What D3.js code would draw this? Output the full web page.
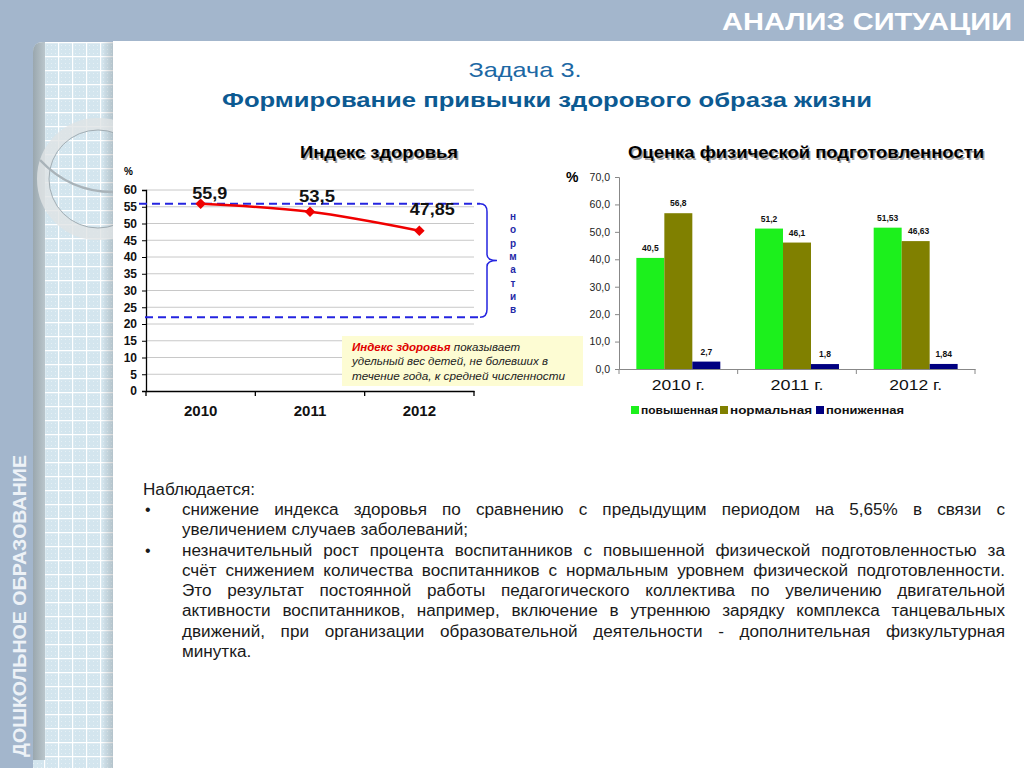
<!DOCTYPE html>
<html><head><meta charset="utf-8">
<script src="https://cdn.jsdelivr.net/npm/d3@7"></script>
<style>html,body{margin:0;padding:0;background:#fff;overflow:hidden}svg{display:block;font-family:Arial,"Liberation Sans",sans-serif}</style>
</head><body>
<svg id="c" width="1024" height="768"></svg>
<script>
// ---------- data ----------
const years = ["2010", "2011", "2012"];
const healthIndex = [55.9, 53.5, 47.85];
const healthLabels = ["55,9", "53,5", "47,85"];
const leftTicks = [0, 5, 10, 15, 20, 25, 30, 35, 40, 45, 50, 55, 60];
const normLow = 22;
const normHigh = 55.9;
const normLetters = ["н", "о", "р", "м", "а", "т", "и", "в"];

const fitCats = ["2010 г.", "2011 г.", "2012 г."];
const seriesNames = ["повышенная", "нормальная", "пониженная"];
const raised = [40.5, 51.2, 51.53];
const normal = [56.8, 46.1, 46.63];
const lowered = [2.7, 1.8, 1.84];
const rightTicks = [0, 10, 20, 30, 40, 50, 60, 70];
const seriesColors = ["#1cf01c", "#808000", "#000080"];

const bodyLines = [
  {t: "Наблюдается:", x: 143, j: false},
  {t: "снижение индекса здоровья по сравнению с предыдущим периодом на 5,65% в связи с", x: 182, j: true, b: true},
  {t: "увеличением случаев заболеваний;", x: 182, j: false},
  {t: "незначительный рост процента воспитанников с повышенной физической подготовленностью за", x: 182, j: true, b: true},
  {t: "счёт снижением количества воспитанников с нормальным уровнем физической подготовленности.", x: 182, j: true},
  {t: "Это результат постоянной работы педагогического коллектива по увеличению двигательной", x: 182, j: true},
  {t: "активности воспитанников, например, включение в утреннюю зарядку комплекса танцевальных", x: 182, j: true},
  {t: "движений,  при организации образовательной деятельности - дополнительная физкультурная", x: 182, j: true},
  {t: "минутка.", x: 182, j: false}
];

const svg = d3.select("#c");
const defs = svg.append("defs");

// ---------- background ----------
svg.append("rect").attr("width", 1024).attr("height", 768).attr("fill", "#a3b6cc");
const pat = defs.append("pattern").attr("id", "grid").attr("patternUnits", "userSpaceOnUse")
  .attr("x", 44).attr("y", 42).attr("width", 14).attr("height", 14);
pat.append("rect").attr("width", 14).attr("height", 14).attr("fill", "#d3e5ee");
for (let i = 0; i < 3; i++) for (let k = 0; k < 3; k++)
  pat.append("rect").attr("x", 3 + i * 4).attr("y", 3 + k * 4).attr("width", 1).attr("height", 1).attr("fill", "#e6f0f5");
pat.append("path").attr("d", "M0,0.5H14M0.5,0V14").attr("stroke", "#fff").attr("stroke-width", 1.4);

const sh = defs.append("linearGradient").attr("id", "shade");
sh.append("stop").attr("offset", "0").attr("stop-color", "#000").attr("stop-opacity", 0);
sh.append("stop").attr("offset", "1").attr("stop-color", "#000").attr("stop-opacity", 0.15);
const gs = defs.append("linearGradient").attr("id", "gstrip");
gs.append("stop").attr("offset", "0").attr("stop-color", "#9aa7ae");
gs.append("stop").attr("offset", "1").attr("stop-color", "#bac6cc");

svg.append("path").attr("d", "M33,52 Q33,42 43,42 H113 V768 H33 Z").attr("fill", "url(#grid)");
svg.append("path").attr("d", "M33,52 Q33,42 43,42 H45 V760 H33 Z").attr("fill", "url(#gstrip)");
svg.append("rect").attr("x", 102).attr("y", 42).attr("width", 11).attr("height", 726).attr("fill", "url(#shade)");
// ring decoration
svg.append("circle").attr("cx", 98).attr("cy", 179).attr("r", 55).attr("fill", "none")
  .attr("stroke", "#e0e3e5").attr("stroke-opacity", 0.8).attr("stroke-width", 12);
svg.append("circle").attr("cx", 98).attr("cy", 179).attr("r", 49).attr("fill", "none")
  .attr("stroke", "#a2adb3").attr("stroke-width", 1);
svg.append("path").attr("d", "M40,160 Q70,192 113,192").attr("fill", "none")
  .attr("stroke", "#a9b3b9").attr("stroke-width", 2.5);

// white main panel
svg.append("rect").attr("x", 113).attr("y", 41).attr("width", 911).attr("height", 727).attr("fill", "#fff");

// header text
svg.append("text").attr("x", 1012).attr("y", 30).attr("text-anchor", "end")
  .attr("font-weight", "bold").attr("font-size", 24)
  .attr("fill", "#fff").attr("textLength", 290).attr("lengthAdjust", "spacingAndGlyphs").text("АНАЛИЗ СИТУАЦИИ");
// sidebar text
svg.append("text").attr("transform", "translate(26,757) rotate(-90)")
  .attr("font-weight", "bold").attr("font-size", 18).attr("fill", "#edf2f7")
  .attr("textLength", 302).attr("lengthAdjust", "spacingAndGlyphs").text("ДОШКОЛЬНОЕ ОБРАЗОВАНИЕ");

// titles
svg.append("text").attr("x", 525).attr("y", 77).attr("text-anchor", "middle")
  .attr("font-size", 21).attr("fill", "#1c68a4")
  .attr("textLength", 113).attr("lengthAdjust", "spacingAndGlyphs").text("Задача 3.");
svg.append("text").attr("x", 547).attr("y", 107).attr("text-anchor", "middle")
  .attr("font-size", 21).attr("font-weight", "bold").attr("fill", "#0c5a92")
  .attr("textLength", 650).attr("lengthAdjust", "spacingAndGlyphs")
  .text("Формирование привычки здорового образа жизни");

function shadowTitle(x, y, txt, w) {
  [["#a0a0a0", 1.5, 2], ["#000", 0, 0]].forEach(([c, dx, dy]) => {
    svg.append("text").attr("x", x + dx).attr("y", y + dy).attr("text-anchor", "middle")
      .attr("font-size", 16.5).attr("font-weight", "bold").attr("fill", c)
      .attr("textLength", w).attr("lengthAdjust", "spacingAndGlyphs").text(txt);
  });
}
shadowTitle(379, 158, "Индекс здоровья", 158);
shadowTitle(806, 158, "Оценка физической подготовленности", 356);

// ---------- left chart ----------
const xL = d3.scaleBand().domain(years).range([146, 474]);
const yL = d3.scaleLinear().domain([0, 60]).range([391, 190]);
const L = svg.append("g");
L.selectAll("line.grid").data(leftTicks.filter(d => d > 0)).join("line")
  .attr("x1", 146).attr("x2", 474).attr("y1", d => yL(d)).attr("y2", d => yL(d))
  .attr("stroke", "#c8c8c8").attr("stroke-width", 1);
const axL = L.append("g").attr("transform", "translate(146,0)")
  .call(d3.axisLeft(yL).tickValues(leftTicks).tickSize(4).tickPadding(5));
axL.select(".domain").attr("stroke", "#000").attr("stroke-width", 1.3);
axL.selectAll("text").attr("font-size", 12).attr("font-weight", "bold").attr("fill", "#111").attr("font-family", "Arial");
const axLB = L.append("g").attr("transform", "translate(0,391)")
  .call(d3.axisBottom(xL).tickSize(0).tickPadding(14));
axLB.select(".domain").attr("stroke", "#000").attr("stroke-width", 1.3);
axLB.selectAll("text").attr("font-size", 15).attr("font-weight", "bold").attr("fill", "#111").attr("font-family", "Arial");
L.selectAll("line.xt").data(xL.domain().map(d => xL(d)).concat([474])).join("line")
  .attr("x1", d => d).attr("x2", d => d).attr("y1", 391).attr("y2", 396).attr("stroke", "#000").attr("stroke-width", 1.3);
L.append("text").attr("x", 124).attr("y", 175).attr("font-size", 10).attr("font-weight", "bold").text("%");

// norm dashed lines and brace
const yHi = yL(normHigh), yLo = yL(normLow);
L.append("line").attr("x1", 139).attr("x2", 480).attr("y1", yHi).attr("y2", yHi)
  .attr("stroke", "#2424e0").attr("stroke-width", 2).attr("stroke-dasharray", "8,5");
L.append("line").attr("x1", 145).attr("x2", 480).attr("y1", yLo).attr("y2", yLo)
  .attr("stroke", "#2424e0").attr("stroke-width", 2).attr("stroke-dasharray", "8,5");
const ym = (yHi + yLo) / 2;
L.append("path").attr("fill", "none").attr("stroke", "#2424e0").attr("stroke-width", 1.5)
  .attr("d", `M480,${yHi} Q487,${yHi} 487,${yHi + 8} V${ym - 6} Q487,${ym} 497,${ym} Q487,${ym} 487,${ym + 6} V${yLo - 8} Q487,${yLo} 480,${yLo}`);
L.selectAll("text.nl").data(normLetters).join("text")
  .attr("x", 513).attr("y", (d, i) => 220 + i * 13.3).attr("text-anchor", "middle")
  .attr("font-size", 10).attr("font-weight", "bold").attr("fill", "#1f2aa8").text(d => d);

// line
const pts = years.map((y, i) => [xL(y) + xL.bandwidth() / 2, yL(healthIndex[i])]);
L.append("path").attr("d", d3.line().curve(d3.curveMonotoneX)(pts)).attr("fill", "none")
  .attr("stroke", "#f00000").attr("stroke-width", 2.5);
L.selectAll("path.mk").data(pts).join("path")
  .attr("d", d3.symbol(d3.symbolSquare, 56)).attr("transform", d => `translate(${d[0]},${d[1]}) rotate(45)`).attr("fill", "#ee0000");
const lblOff = [[9, -5], [7, -10], [13, -16]];
const lblW = [35, 36, 45];
L.selectAll("text.dl").data(pts).join("text")
  .attr("x", (d, i) => d[0] + lblOff[i][0]).attr("y", (d, i) => d[1] + lblOff[i][1]).attr("text-anchor", "middle")
  .attr("font-size", 16).attr("font-weight", "bold").attr("fill", "#111")
  .attr("textLength", (d, i) => lblW[i]).attr("lengthAdjust", "spacingAndGlyphs").text((d, i) => healthLabels[i]);

// annotation box
L.append("rect").attr("x", 342).attr("y", 336).attr("width", 241).attr("height", 50).attr("fill", "#fdfcd3");
const ann = L.append("g").attr("font-size", 11.5).attr("font-style", "italic").attr("fill", "#222");
const a1 = ann.append("text").attr("x", 352).attr("y", 351).attr("textLength", 168).attr("lengthAdjust", "spacingAndGlyphs");
a1.append("tspan").attr("fill", "#e00000").attr("font-weight", "bold").text("Индекс здоровья");
a1.append("tspan").text(" показывает");
ann.append("text").attr("x", 352).attr("y", 365).attr("textLength", 196).attr("lengthAdjust", "spacingAndGlyphs").text("удельный вес детей, не болевших в");
ann.append("text").attr("x", 352).attr("y", 380).attr("textLength", 213).attr("lengthAdjust", "spacingAndGlyphs").text("течение года, к средней  численности");

// ---------- right chart ----------
const xR = d3.scaleBand().domain(fitCats).range([619, 975]);
const xS = d3.scaleBand().domain(seriesNames).range([0, xR.bandwidth()]).paddingInner(0).paddingOuter(0.62);
const yR = d3.scaleLinear().domain([0, 70]).range([369, 177]);
const R = svg.append("g");
const axR = R.append("g").attr("transform", "translate(619,0)")
  .call(d3.axisLeft(yR).tickValues(rightTicks).tickSize(4).tickPadding(5).tickFormat(d => d3.format(".1f")(d).replace(".", ",")));
axR.select(".domain").attr("stroke", "#888");
axR.selectAll("line").attr("stroke", "#888");
axR.selectAll("text").attr("font-size", 10.5).attr("fill", "#222").attr("font-family", "Arial");
const axRB = R.append("g").attr("transform", "translate(0,369)")
  .call(d3.axisBottom(xR).tickSize(0).tickPadding(10));
axRB.select(".domain").attr("stroke", "#888");
axRB.selectAll("text").attr("font-size", 15).attr("fill", "#111").attr("font-family", "Arial")
  .attr("textLength", 53).attr("lengthAdjust", "spacingAndGlyphs");
R.selectAll("line.xt").data(fitCats.map(d => xR(d)).concat([975])).join("line")
  .attr("x1", d => d).attr("x2", d => d).attr("y1", 369).attr("y2", 374).attr("stroke", "#888");
R.append("text").attr("x", 566).attr("y", 182).attr("font-size", 14).attr("font-weight", "bold").text("%");

const seriesVals = [raised, normal, lowered];
const barData = [];
fitCats.forEach((c, i) => seriesNames.forEach((s, k) => barData.push({c, s, k, v: seriesVals[k][i]})));
R.selectAll("rect.bar").data(barData).join("rect")
  .attr("x", d => xR(d.c) + xS(d.s)).attr("width", xS.bandwidth())
  .attr("y", d => yR(d.v)).attr("height", d => yR(0) - yR(d.v)).attr("fill", d => seriesColors[d.k]);
R.selectAll("text.bl").data(barData).join("text")
  .attr("x", d => xR(d.c) + xS(d.s) + xS.bandwidth() / 2 + (d.v === 46.63 ? 3 : 0)).attr("y", d => yR(d.v) - 7)
  .attr("text-anchor", "middle").attr("font-size", 8.5).attr("font-weight", "bold").attr("fill", "#111")
  .text(d => String(d.v).replace(".", ","));

// legend
const legX = [631, 720, 816];
const legW = [77, 82, 78];
const lg = R.selectAll("g.lg").data(seriesNames).join("g").attr("transform", (d, i) => `translate(${legX[i]},406)`);
lg.append("rect").attr("width", 8).attr("height", 8).attr("fill", (d, i) => seriesColors[i]);
lg.append("text").attr("x", 10).attr("y", 8).attr("font-size", 10).attr("font-weight", "bold").attr("fill", "#111")
  .attr("textLength", (d, i) => legW[i]).attr("lengthAdjust", "spacingAndGlyphs").text(d => d);

// ---------- body text ----------
const B = svg.append("g").attr("font-size", 16).attr("fill", "#1a1a1a");
const baselines = [495, 515, 535, 556, 576, 596, 616, 637, 657];
const xRight = 1005;
const stretch = 1.07;
function word(t, y) {
  const e = B.append("text").attr("y", y).text(t);
  const w = e.node().getComputedTextLength() * stretch;
  e.attr("textLength", w).attr("lengthAdjust", "spacingAndGlyphs");
  return [e, w];
}
bodyLines.forEach((ln, i) => {
  const y = baselines[i];
  if (ln.b) B.append("text").attr("x", 145).attr("y", y).text("•");
  if (!ln.j) { word(ln.t, y)[0].attr("x", ln.x); return; }
  const parts = ln.t.split(/\s+/).map(w => word(w, y));
  const total = d3.sum(parts, p => p[1]);
  const gap = (xRight - ln.x - total) / (parts.length - 1);
  let cx = ln.x;
  parts.forEach(([e, w]) => { e.attr("x", cx); cx += w + gap; });
});
</script>
</body></html>
